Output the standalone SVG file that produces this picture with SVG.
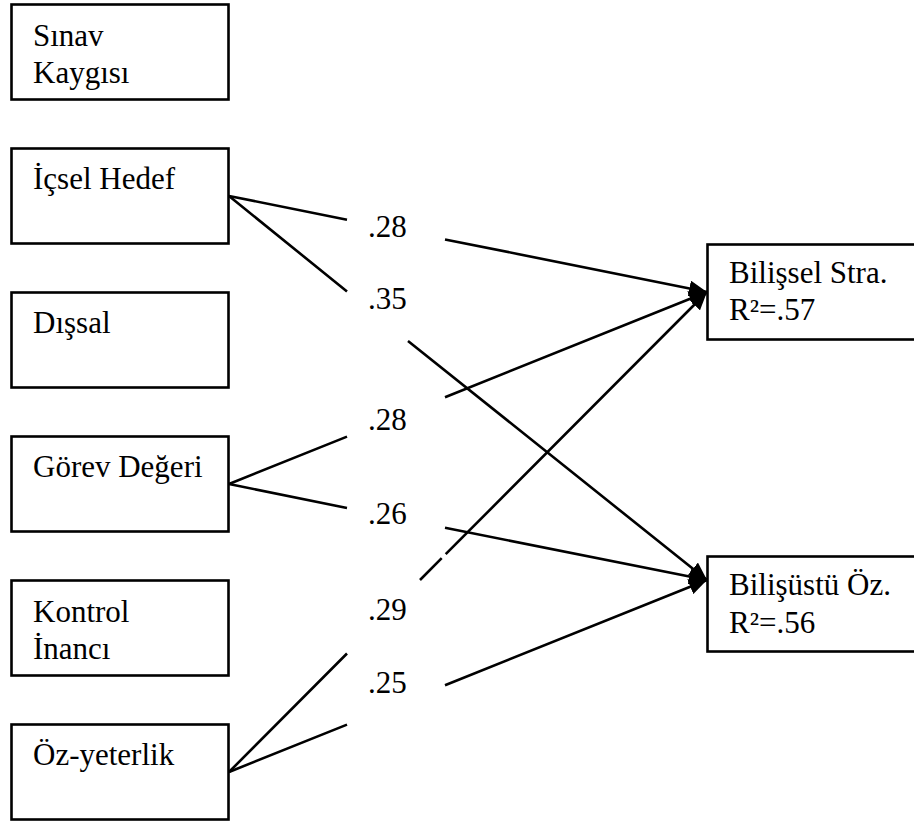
<svg xmlns="http://www.w3.org/2000/svg" width="914" height="823" viewBox="0 0 914 823">
  <style>
    .box { fill: #ffffff; stroke: #000000; stroke-width: 2.6; }
    .lbl { font-family: 'Liberation Serif', 'DejaVu Serif', serif; font-size: 31px; fill: #000000; }
    .path { fill: none; stroke: #000000; stroke-width: 2.6; stroke-linecap: butt; }
  </style>
  <defs>
    <marker id="arrow" markerUnits="userSpaceOnUse" markerWidth="20" markerHeight="16" refX="18" refY="8" orient="auto">
      <path d="M0,0 L18,8 L0,16 z" fill="#000000"/>
    </marker>
  </defs>

  <rect width="914" height="823" fill="#ffffff"/>

  <!-- predictors -->
  <g id="sinav-kaygisi">
    <rect class="box" x="11.5" y="4.5" width="217" height="95"/>
    <text class="lbl" font-family="Liberation Serif, serif" x="33" y="46">Sınav</text>
    <text class="lbl" font-family="Liberation Serif, serif" x="33" y="83">Kaygısı</text>
  </g>
  <g id="icsel-hedef">
    <rect class="box" x="11.5" y="148.5" width="217" height="95"/>
    <text class="lbl" font-family="Liberation Serif, serif" x="33" y="189">İçsel Hedef</text>
  </g>
  <g id="dissal">
    <rect class="box" x="11.5" y="292.5" width="217" height="95"/>
    <text class="lbl" font-family="Liberation Serif, serif" x="33" y="333">Dışsal</text>
  </g>
  <g id="gorev-degeri">
    <rect class="box" x="11.5" y="436.5" width="217" height="95"/>
    <text class="lbl" font-family="Liberation Serif, serif" x="33" y="477">Görev Değeri</text>
  </g>
  <g id="kontrol-inanci">
    <rect class="box" x="11.5" y="580.5" width="217" height="95"/>
    <text class="lbl" font-family="Liberation Serif, serif" x="33" y="622">Kontrol</text>
    <text class="lbl" font-family="Liberation Serif, serif" x="33" y="659">İnancı</text>
  </g>
  <g id="oz-yeterlik">
    <rect class="box" x="11.5" y="724.5" width="217" height="95"/>
    <text class="lbl" font-family="Liberation Serif, serif" x="33" y="765">Öz-yeterlik</text>
  </g>

  <!-- outcomes -->
  <g id="bilissel-stra">
    <rect class="box" x="707.5" y="244.5" width="215" height="95"/>
    <text class="lbl" font-family="Liberation Serif, serif" x="729" y="283">Bilişsel Stra.</text>
    <text class="lbl" font-family="Liberation Serif, serif" x="729" y="320">R²=.57</text>
  </g>
  <g id="bilisustu-oz">
    <rect class="box" x="707.5" y="556.5" width="215" height="95"/>
    <text class="lbl" font-family="Liberation Serif, serif" x="729" y="595">Bilişüstü Öz.</text>
    <text class="lbl" font-family="Liberation Serif, serif" x="729" y="633">R²=.56</text>
  </g>

  <!-- paths, broken where the coefficients sit -->
  <g id="connectors">
    <path class="path" d="M229,196 L347,219.7 M445,239.4 L707,292" marker-end="url(#arrow)"/>
    <path class="path" d="M229,196 L347,291.5 M408,341 L707,580" marker-end="url(#arrow)"/>
    <path class="path" d="M229,484 L347,436.6 M445,397.2 L707,292" marker-end="url(#arrow)"/>
    <path class="path" d="M229,484 L347,508 M445,527.8 L707,580" marker-end="url(#arrow)"/>
    <path class="path" d="M229,772 L347,653.5 M420,580 L441.7,558.2 M445.7,554.2 L707,292" marker-end="url(#arrow)"/>
    <path class="path" d="M229,772 L347,724.6 M445,685.2 L707,580" marker-end="url(#arrow)"/>
  </g>

  <!-- path coefficients -->
  <g id="coefficients">
    <text class="lbl" font-family="Liberation Serif, serif" x="368" y="237">.28</text>
    <text class="lbl" font-family="Liberation Serif, serif" x="368" y="309">.35</text>
    <text class="lbl" font-family="Liberation Serif, serif" x="368" y="430">.28</text>
    <text class="lbl" font-family="Liberation Serif, serif" x="368" y="524">.26</text>
    <text class="lbl" font-family="Liberation Serif, serif" x="368" y="620">.29</text>
    <text class="lbl" font-family="Liberation Serif, serif" x="368" y="693">.25</text>
  </g>
</svg>
